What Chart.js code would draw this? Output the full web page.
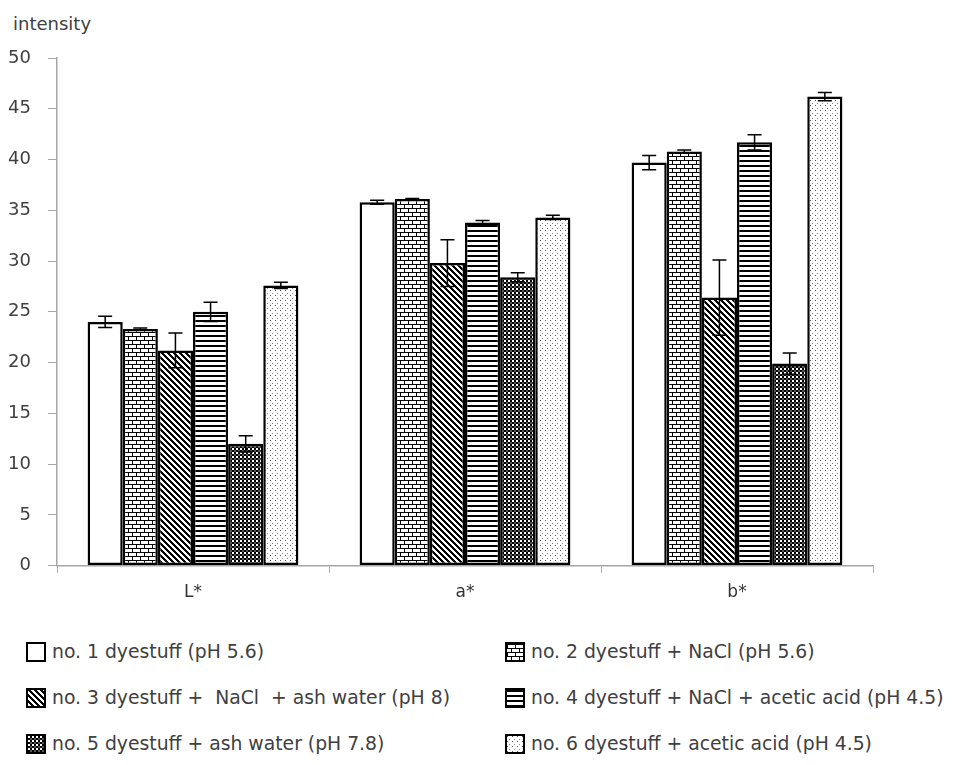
<!DOCTYPE html>
<html lang="en">

<head>
  <meta charset="UTF-8" />
  <title>intensity</title>
  <script src="https://cdn.jsdelivr.net/npm/chart.js"></script>
  <style>
    body { margin: 0; background: #fff; font-family: "DejaVu Sans", sans-serif; color: #404040; }
    #wrap { position: relative; width: 953px; height: 765px; }
    #yTitle { position: absolute; left: 13px; top: 13px; font-size: 18px; }
    #chartBox { position: absolute; left: 0; top: 0; width: 953px; height: 615px; }
    .lg { position: absolute; font-size: 18.8px; display: flex; align-items: center; white-space: pre; }
    .lg canvas { border: 2px solid #000; margin-right: 6px; box-sizing: border-box; }
  </style>
</head>

<body>
  <div id="wrap">
    <div id="yTitle">intensity</div>
    <div id="chartBox"><canvas id="myChart"></canvas></div>
    <div id="legend"></div>
  </div>

  <script>
    // 資料
    const categories = ["L*", "a*", "b*"];
    const seriesNames = [
      "no. 1 dyestuff (pH 5.6)",
      "no. 2 dyestuff + NaCl (pH 5.6)",
      "no. 3 dyestuff +  NaCl  + ash water (pH 8)",
      "no. 4 dyestuff + NaCl + acetic acid (pH 4.5)",
      "no. 5 dyestuff + ash water (pH 7.8)",
      "no. 6 dyestuff + acetic acid (pH 4.5)",
    ];
    const no1 = [24.0, 35.8, 39.7];
    const no2 = [23.3, 36.1, 40.8];
    const no3 = [21.2, 29.8, 26.4];
    const no4 = [25.0, 33.8, 41.7];
    const no5 = [12.0, 28.4, 19.9];
    const no6 = [27.6, 34.3, 46.2];
    const err1 = [0.55, 0.2, 0.7];
    const err2 = [0.1, 0.05, 0.15];
    const err3 = [1.7, 2.3, 3.7];
    const err4 = [0.95, 0.2, 0.75];
    const err5 = [0.8, 0.45, 1.05];
    const err6 = [0.3, 0.2, 0.4];
    const yTicks = [0, 5, 10, 15, 20, 25, 30, 35, 40, 45, 50];

    const values = [no1, no2, no3, no4, no5, no6];
    const errors = [err1, err2, err3, err4, err5, err6];

    // 圖樣
    function makeTile(w, h, draw) {
      const c = document.createElement("canvas");
      c.width = w;
      c.height = h;
      const g = c.getContext("2d");
      g.fillStyle = "#fff";
      g.fillRect(0, 0, w, h);
      g.fillStyle = "#000";
      draw(g);
      return c;
    }

    const tiles = [
      makeTile(4, 4, () => {}),
      // brick
      makeTile(8, 8, (g) => {
        g.fillRect(0, 0, 8, 1);
        g.fillRect(0, 4, 8, 1);
        g.fillRect(0, 0, 1, 4);
        g.fillRect(4, 4, 1, 4);
      }),
      // diagonal \
      makeTile(6, 6, (g) => {
        for (let i = 0; i < 6; i++) {
          g.fillRect(i, i, 1, 1);
          g.fillRect((i + 1) % 6, i, 1, 1);
          g.fillRect((i + 2) % 6, i, 1, 1);
        }
      }),
      // horizontal
      makeTile(5, 5, (g) => {
        g.fillRect(0, 0, 5, 2);
      }),
      // checker
      makeTile(4, 4, (g) => {
        g.fillRect(0, 0, 4, 4);
        g.fillStyle = "#fff";
        g.fillRect(0, 0, 2, 2);
        g.fillStyle = "#555";
        g.fillRect(2, 2, 2, 2);
      }),
      // dots
      makeTile(5, 5, (g) => {
        g.fillStyle = "#555";
        g.fillRect(0, 0, 1, 1);
        g.fillStyle = "#888";
        g.fillRect(2, 3, 1, 1);
      }),
    ];

    const ctxMain = document.getElementById("myChart").getContext("2d");
    const patterns = tiles.map((t) => ctxMain.createPattern(t, "repeat"));

    // 誤差線
    const errorBarPlugin = {
      id: "errorBars",
      afterDatasetsDraw(chart) {
        const ctx = chart.ctx;
        const yScale = chart.scales.y;
        ctx.save();
        ctx.strokeStyle = "#000";
        ctx.lineWidth = 1.5;
        chart.data.datasets.forEach((ds, di) => {
          const meta = chart.getDatasetMeta(di);
          meta.data.forEach((bar, i) => {
            const v = ds.data[i];
            const e = ds.errors[i];
            const top = yScale.getPixelForValue(v + e);
            const bot = yScale.getPixelForValue(v - e);
            ctx.beginPath();
            ctx.moveTo(bar.x, top);
            ctx.lineTo(bar.x, bot);
            ctx.moveTo(bar.x - 7, top);
            ctx.lineTo(bar.x + 7, top);
            ctx.moveTo(bar.x - 7, bot);
            ctx.lineTo(bar.x + 7, bot);
            ctx.stroke();
          });
        });
        ctx.restore();
      },
    };

    const myChart = new Chart(ctxMain, {
      type: "bar",
      data: {
        labels: categories,
        datasets: values.map((v, i) => ({
          label: seriesNames[i],
          data: v,
          errors: errors[i],
          backgroundColor: patterns[i],
          borderColor: "#000",
          borderWidth: 2.5,
          borderSkipped: false,
          barPercentage: 1,
          categoryPercentage: 0.775,
        })),
      },
      options: {
        responsive: true,
        maintainAspectRatio: false,
        animation: false,
        layout: {
          padding: { top: 58, right: 80, bottom: 2, left: 0 },
        },
        plugins: {
          legend: { display: false },
          tooltip: { enabled: false },
        },
        scales: {
          x: {
            grid: {
              drawOnChartArea: false,
              drawTicks: true,
              tickLength: 7,
              color: "#a6a6a6",
              offset: true,
            },
            border: { color: "#a6a6a6", width: 1.5 },
            ticks: {
              color: "#333",
              font: { family: "DejaVu Sans", size: 17 },
              padding: 10,
            },
          },
          y: {
            min: 0,
            max: 50,
            afterBuildTicks: (s) => {
              s.ticks = yTicks.map((v) => ({ value: v }));
            },
            afterFit: (s) => {
              s.width = 57;
            },
            grid: {
              drawOnChartArea: false,
              drawTicks: true,
              tickLength: 9,
              color: "#a6a6a6",
            },
            border: { color: "#a6a6a6", width: 1.5 },
            ticks: {
              color: "#404040",
              font: { family: "DejaVu Sans", size: 18 },
              padding: 17,
            },
          },
        },
      },
      plugins: [errorBarPlugin],
    });

    // 圖例
    const legendPos = [
      [26, 641], [505, 641],
      [26, 687], [505, 687],
      [26, 733], [505, 733],
    ];
    const legendEl = document.getElementById("legend");
    seriesNames.forEach((name, i) => {
      const item = document.createElement("div");
      item.className = "lg";
      item.style.left = legendPos[i][0] + "px";
      item.style.top = legendPos[i][1] + "px";
      const sw = document.createElement("canvas");
      sw.width = 16;
      sw.height = 16;
      const g = sw.getContext("2d");
      g.fillStyle = g.createPattern(tiles[i], "repeat");
      g.fillRect(0, 0, 16, 16);
      item.appendChild(sw);
      const span = document.createElement("span");
      span.textContent = name;
      item.appendChild(span);
      legendEl.appendChild(item);
    });
  </script>
</body>

</html>
